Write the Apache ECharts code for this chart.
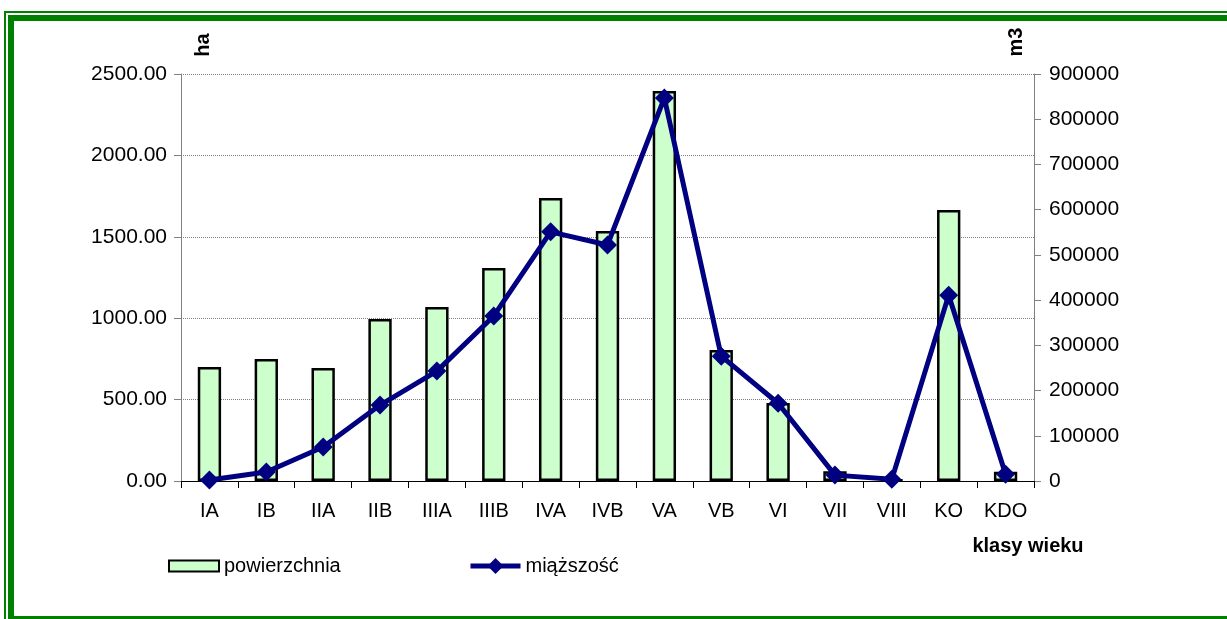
<!DOCTYPE html>
<html>
<head>
<meta charset="utf-8">
<script src="https://cdn.jsdelivr.net/npm/echarts@6/dist/echarts.min.js"></script>
<style>
  html, body { margin: 0; padding: 0; background: #fff; }
  #chart { width: 1227px; height: 619px; }
</style>
</head>
<body>
<div id="chart"></div>
<script>
// klasy wieku
const categories = ['IA', 'IB', 'IIA', 'IIB', 'IIIA', 'IIIB', 'IVA', 'IVB', 'VA', 'VB', 'VI', 'VII', 'VIII', 'KO', 'KDO'];
// powierzchnia [ha]
const area = [700, 749, 694, 995, 1069, 1308, 1738, 1536, 2396, 805, 479, 60, 10, 1665, 57];
// miąższość [m3]
const volume = [2000, 20000, 75000, 168000, 243000, 365000, 551000, 522000, 847000, 276000, 172000, 13000, 4000, 411000, 15000];
const leftTicks = [0, 500, 1000, 1500, 2000, 2500];
const rightTicks = [0, 100000, 200000, 300000, 400000, 500000, 600000, 700000, 800000, 900000];

const font = 'Liberation Sans, Arial, sans-serif';
const chart = echarts.init(document.getElementById('chart'));

const option = {
  animation: false,
  textStyle: { fontFamily: font },
  grid: { left: 181, right: 193, top: 74, bottom: 138 },
  legend: [
    {
      data: [{ name: 'powierzchnia', icon: 'rect' }],
      left: 168, top: 556, padding: 0,
      itemWidth: 50, itemHeight: 11, itemGap: 7,
      itemStyle: { borderWidth: 2, borderColor: '#000' },
      textStyle: { fontSize: 20, color: '#000', fontFamily: font }
    },
    {
      data: ['miąższość'],
      left: 468, top: 556, padding: 0,
      itemWidth: 50, itemHeight: 20,
      lineStyle: { width: 5, color: '#000080' },
      textStyle: { fontSize: 20, color: '#000', fontFamily: font }
    }
  ],
  xAxis: {
    type: 'category',
    data: categories,
    axisLine: { lineStyle: { color: '#000', width: 1 } },
    axisTick: { show: true, length: 7, lineStyle: { color: '#000' } },
    axisLabel: { fontSize: 20, color: '#000', margin: 20, fontFamily: font }
  },
  yAxis: [
    {
      type: 'value',
      min: leftTicks[0], max: leftTicks[leftTicks.length - 1], interval: 500,
      axisLine: { show: true, lineStyle: { color: '#808080' } },
      axisTick: { show: true, length: 7, lineStyle: { color: '#808080' } },
      axisLabel: { fontSize: 21, color: '#000', margin: 14, fontFamily: font,
        formatter: v => v.toFixed(2) },
      splitLine: { show: true, lineStyle: { color: '#808080', type: [1, 1], width: 1 } }
    },
    {
      type: 'value',
      min: rightTicks[0], max: rightTicks[rightTicks.length - 1], interval: 100000,
      axisLine: { show: true, lineStyle: { color: '#808080' } },
      axisTick: { show: true, length: 7, lineStyle: { color: '#808080' } },
      axisLabel: { fontSize: 21, color: '#000', margin: 15, fontFamily: font,
        formatter: v => String(v) },
      splitLine: { show: false }
    }
  ],
  series: [
    {
      name: 'powierzchnia',
      type: 'bar',
      data: area,
      barWidth: '41%',
      itemStyle: { color: '#ccffcc', borderColor: '#000', borderWidth: 2.5 }
    },
    {
      name: 'miąższość',
      type: 'line',
      yAxisIndex: 1,
      data: volume,
      symbol: 'diamond',
      symbolSize: 19,
      lineStyle: { color: '#000080', width: 5 },
      itemStyle: { color: '#000080' }
    }
  ],
  graphic: [
    // double green frame (left and top), bottom line
    { type: 'rect', shape: { x: 4, y: 11, width: 2, height: 608 }, style: { fill: '#008000' } },
    { type: 'rect', shape: { x: 4, y: 11, width: 1223, height: 2 }, style: { fill: '#008000' } },
    { type: 'rect', shape: { x: 8, y: 15, width: 6, height: 604 }, style: { fill: '#008000' } },
    { type: 'rect', shape: { x: 8, y: 15, width: 1219, height: 6 }, style: { fill: '#008000' } },
    { type: 'rect', shape: { x: 8, y: 616, width: 1219, height: 3 }, style: { fill: '#008000' } },
    {
      type: 'text', x: 203, y: 45, rotation: Math.PI / 2,
      style: { text: 'ha', font: 'bold 20px ' + font, fill: '#000', align: 'center', verticalAlign: 'middle' }
    },
    {
      type: 'text', x: 1016, y: 42, rotation: Math.PI / 2,
      style: { text: 'm3', font: 'bold 20px ' + font, fill: '#000', align: 'center', verticalAlign: 'middle' }
    },
    {
      type: 'text', x: 1028, y: 546,
      style: { text: 'klasy wieku', font: 'bold 20px ' + font, fill: '#000', align: 'center', verticalAlign: 'middle' }
    }
  ]
};

chart.setOption(option);
</script>
</body>
</html>
